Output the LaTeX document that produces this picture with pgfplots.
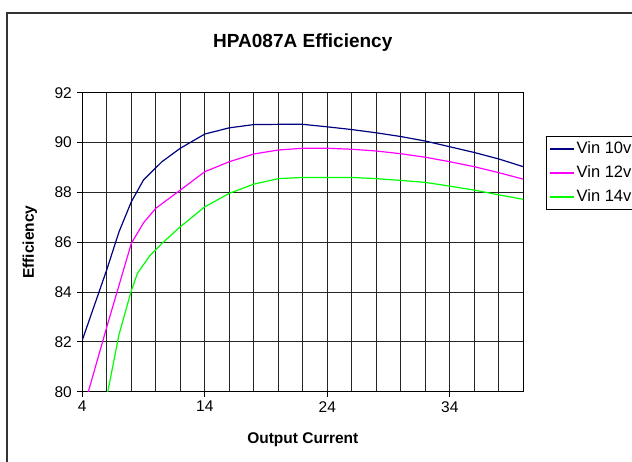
\documentclass[border=0pt]{standalone}
\usepackage{fontspec}
\setmainfont{Liberation Sans}
\usepackage{pgfplots}
\pgfplotsset{compat=1.18}
\definecolor{vten}{HTML}{000080}
\definecolor{vtwelve}{HTML}{FF00FF}
\definecolor{vfourteen}{HTML}{00FF00}
\begin{document}
\begin{tikzpicture}
\useasboundingbox (-82.3pt,-70.3pt) rectangle (549.7pt,391.7pt);
\clip (-82.3pt,-70.3pt) rectangle (549.7pt,391.7pt);
\draw[line width=1.2pt, black!80] (-75.3pt,-100pt) rectangle (600pt,378.7pt);
\begin{axis}[
  at={(0pt,0pt)}, anchor=south west,
  scale only axis, width=441pt, height=299pt,
  xmin=4, xmax=40, ymin=80, ymax=92,
  xtick={4,14,24,34}, minor xtick={4,6,...,40},
  ytick={80,82,...,92},
  grid=both,
  major grid style={black!85, line width=0.8pt},
  minor grid style={black!85, line width=0.8pt},
  axis line style={black, line width=0.9pt},
  tick align=outside, tick pos=left,
  major tick length=5pt, minor tick length=0pt,
  tick style={black, line width=0.9pt},
  tick label style={font=\fontsize{15.5}{18}\selectfont},
  yticklabel style={xshift=-2pt},
  xticklabel style={yshift=-1pt},
  /pgf/number format/assume math mode=true,
  title={HPA087A Efficiency},
  title style={at={(axis description cs:0.5,1.147)}, anchor=center, font=\fontsize{19}{22}\selectfont\bfseries},
  xlabel={Output Current}, ylabel={Efficiency},
  every axis x label/.style={at={(axis description cs:0.5,-0.16)}, anchor=center, font=\fontsize{15.5}{18}\selectfont\bfseries},
  every axis y label/.style={at={(axis description cs:-0.1186,0.5)}, anchor=center, rotate=90, font=\fontsize{15.5}{18}\selectfont\bfseries},
  legend style={at={(axis description cs:1.0515,0.855)}, anchor=north west, draw=black, line width=0.9pt,
    font=\fontsize{16.5}{19}\selectfont, row sep=6pt, inner xsep=3pt, inner ysep=3.5pt,
    nodes={inner sep=2pt, text height=11pt, text depth=3pt}},
  legend cell align=left,
  legend image code/.code={\draw[#1] (0pt,0pt) -- (24pt,0pt);},
]
\addplot[vten, line width=1.2pt] coordinates {
(4,82.07) (6,84.9) (7,86.42) (8,87.62) (9,88.5) (10.5,89.23) (12,89.77) (14,90.34) (16,90.59) (18,90.72) (20,90.73) (22,90.73) (24,90.63) (26,90.52) (28,90.39) (30,90.24) (32,90.06) (34,89.83) (36,89.6) (38,89.34) (40,89.03)
};
\addlegendentry{Vin 10v}
\addplot[vtwelve, line width=1.2pt] coordinates {
(4,79.15) (6,82.6) (8,85.95) (9,86.78) (10,87.36) (12,88.09) (14,88.83) (16,89.23) (18,89.54) (20,89.70) (22,89.77) (24,89.77) (26,89.73) (28,89.66) (30,89.55) (32,89.41) (34,89.23) (36,89.03) (38,88.79) (40,88.53)
};
\addlegendentry{Vin 12v}
\addplot[vfourteen, line width=1.2pt] coordinates {
(6,79.8) (7,82.3) (8,84.05) (8.5,84.75) (9.5,85.45) (10.5,85.95) (12,86.62) (14,87.42) (16,87.96) (18,88.33) (20,88.55) (22,88.6) (24,88.6) (26,88.6) (28,88.55) (30,88.48) (32,88.4) (34,88.25) (36,88.09) (38,87.9) (40,87.72)
};
\addlegendentry{Vin 14v}
\end{axis}
\end{tikzpicture}
\end{document}
